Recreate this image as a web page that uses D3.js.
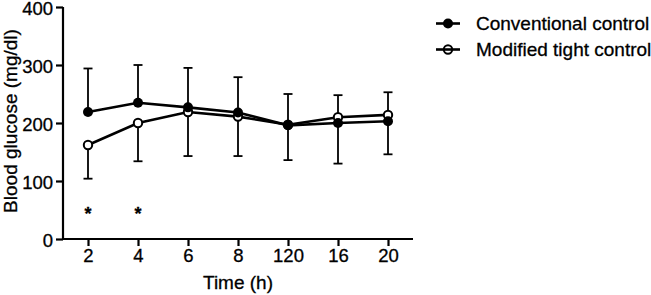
<!DOCTYPE html>
<html>
<head>
<meta charset="utf-8">
<script src="https://cdn.jsdelivr.net/npm/d3@7"></script>
<style>
  html, body { margin: 0; padding: 0; background: #fff; }
  svg { display: block; font-family: "Liberation Sans", Arial, sans-serif; }
  text { fill: #000; stroke: #000; stroke-width: 0.3px; }
</style>
</head>
<body>
<svg id="chart" width="651" height="295"></svg>
<script>
const categories = ["2", "4", "6", "8", "120", "16", "20"];
const conventionalMean = [219, 235, 227, 218, 196, 200, 203];
const conventionalUpper = [294, 300, 295, 279, 250, 248, 253];
const modifiedMean = [162, 200, 219, 211, 197, 210, 214];
const modifiedLower = [104, 134, 143, 143, 136, 130, 146];
const yTicks = [0, 100, 200, 300, 400];
const significant = ["2", "4"];
const seriesNames = ["Conventional control", "Modified tight control"];

const svg = d3.select("#chart");
const x = d3.scalePoint().domain(categories).range([63, 413]).padding(0.5);
const y = d3.scaleLinear().domain([0, 400]).range([239, 7]);

// axes
const yAxis = svg.append("g").attr("transform", "translate(63,0)")
  .call(d3.axisLeft(y).tickValues(yTicks).tickSize(7).tickPadding(3).tickSizeOuter(0));
const xAxis = svg.append("g").attr("transform", "translate(0,239)")
  .call(d3.axisBottom(x).tickSize(7).tickPadding(3).tickSizeOuter(0));
[yAxis, xAxis].forEach(g => {
  g.select(".domain").attr("stroke", "#000").attr("stroke-width", 2.2);
  g.selectAll(".tick line").attr("stroke", "#000").attr("stroke-width", 2.2);
  g.selectAll(".tick text").attr("fill", "#000").attr("font-size", 18.5)
    .attr("font-family", "'Liberation Sans', Arial, sans-serif");
});
yAxis.selectAll(".tick text").attr("dy", "0.42em");
xAxis.select(".domain").attr("d", "M63,0H413");
yAxis.select(".domain").attr("d", "M0,7V240");

// axis titles
svg.append("text").attr("x", 238).attr("y", 289)
  .attr("text-anchor", "middle").attr("font-size", 19).text("Time (h)");
svg.append("text").attr("transform", "translate(17,121) rotate(-90)")
  .attr("text-anchor", "middle").attr("font-size", 19).text("Blood glucose (mg/dl)");

const capHalf = 4.5;
// error bars
function errBars(means, ends) {
  const g = svg.append("g").attr("stroke", "#000").attr("stroke-width", 1.8);
  categories.forEach((c, i) => {
    g.append("line").attr("x1", x(c)).attr("x2", x(c)).attr("y1", y(means[i])).attr("y2", y(ends[i]));
    g.append("line").attr("x1", x(c) - capHalf).attr("x2", x(c) + capHalf).attr("y1", y(ends[i])).attr("y2", y(ends[i]));
  });
}
errBars(conventionalMean, conventionalUpper);
errBars(modifiedMean, modifiedLower);

const line = d3.line().x((d, i) => x(categories[i])).y(d => y(d));
svg.append("path").datum(modifiedMean).attr("d", line).attr("fill", "none").attr("stroke", "#000").attr("stroke-width", 2.6);
svg.append("path").datum(conventionalMean).attr("d", line).attr("fill", "none").attr("stroke", "#000").attr("stroke-width", 2.6);

svg.append("g").selectAll("circle").data(modifiedMean).join("circle")
  .attr("cx", (d, i) => x(categories[i])).attr("cy", d => y(d)).attr("r", 4.2)
  .attr("fill", "#fff").attr("stroke", "#000").attr("stroke-width", 2);
svg.append("g").selectAll("circle").data(conventionalMean).join("circle")
  .attr("cx", (d, i) => x(categories[i])).attr("cy", d => y(d)).attr("r", 5)
  .attr("fill", "#000");

// significance asterisks
svg.append("g").selectAll("text").data(significant).join("text")
  .attr("x", d => x(d)).attr("y", y(50) + 10).attr("text-anchor", "middle")
  .attr("font-size", 18).attr("font-weight", "bold").text("*");

// legend
const leg = svg.append("g");
seriesNames.forEach((name, i) => {
  const cy = 23.5 + i * 26;
  leg.append("line").attr("x1", 436).attr("x2", 460).attr("y1", cy).attr("y2", cy)
    .attr("stroke", "#000").attr("stroke-width", 2.6);
  if (i === 0) {
    leg.append("circle").attr("cx", 448).attr("cy", cy).attr("r", 5).attr("fill", "#000");
  } else {
    leg.append("circle").attr("cx", 448).attr("cy", cy).attr("r", 4.2)
      .attr("fill", "none").attr("stroke", "#000").attr("stroke-width", 2);
  }
  leg.append("text").attr("x", 476).attr("y", cy + 6.5).attr("font-size", 19).text(name);
});
</script>
</body>
</html>
